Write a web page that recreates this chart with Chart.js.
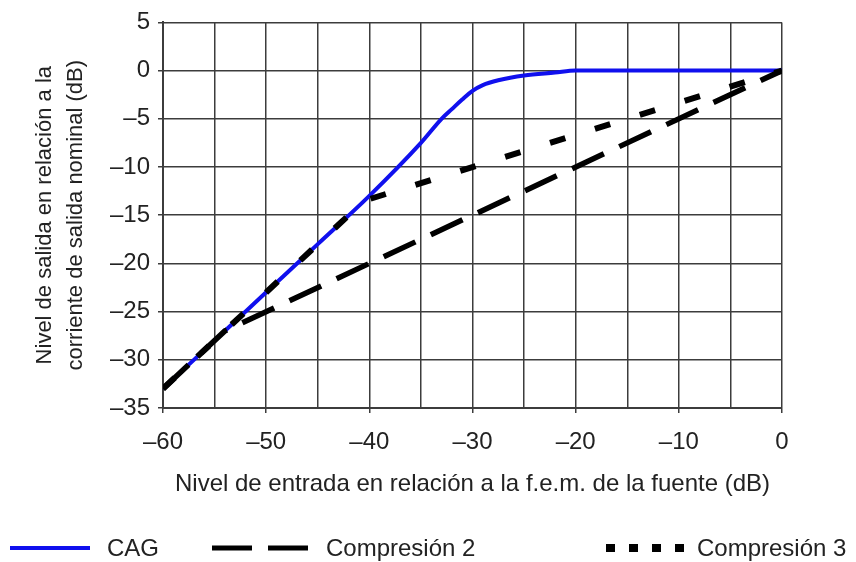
<!DOCTYPE html>
<html>
<head>
<meta charset="utf-8">
<script src="https://cdn.jsdelivr.net/npm/chart.js@4/dist/chart.umd.min.js"></script>
<style>
  html, body { margin: 0; padding: 0; background: #fff; }
  #wrap { width: 856px; height: 562px; }
</style>
</head>
<body>
<div id="wrap"><canvas id="chart" width="856" height="562"></canvas></div>
<script>
// input level (dB) vs output level (dB)
const cagX = [-60, -55, -50, -45, -40, -35, -33, -32, -31, -30, -29, -27.5, -25, -22, -20, -10, 0];
const cagY = [-33, -28, -23, -18, -13, -7.5, -5, -4, -3, -2.1, -1.5, -1.0, -0.5, -0.2, 0, 0, 0];

const comp2X = [-60, -54, 0];
const comp2Y = [-33, -27, 0];

const comp3X = [-60, -40.5, 0];
const comp3Y = [-33, -13.5, 0];

const xTicks = [-60, -50, -40, -30, -20, -10, 0];
const yTicks = [5, 0, -5, -10, -15, -20, -25, -30, -35];

const seriesNames = ["CAG", "Compresión 2", "Compresión 3"];

const FONT = "'Liberation Sans', Arial, sans-serif";
const GRID = "#3c3c3c";

function toPoints(xs, ys) {
  return xs.map((x, i) => ({ x: x, y: ys[i] }));
}

function dash(v) {
  return v < 0 ? "\u2013" + Math.abs(v) : String(v);
}

// legend drawn under the axis title
const legendPlugin = {
  id: "bottomLegend",
  afterDraw(chart) {
    const ctx = chart.ctx;
    const y = 548;
    const items = [
      { ds: 0, x1: 10, x2: 90, tx: 107, lw: 4, dash: [] },
      { ds: 1, x1: 212, x2: 314, tx: 326, lw: 5, dash: [40, 16] },
      { ds: 2, x1: 606, x2: 684, tx: 697, lw: 8, dash: [9, 14] }
    ];
    ctx.save();
    items.forEach(it => {
      const d = chart.data.datasets[it.ds];
      ctx.beginPath();
      ctx.setLineDash(it.dash);
      ctx.lineWidth = it.lw;
      ctx.strokeStyle = d.borderColor;
      ctx.moveTo(it.x1, y);
      ctx.lineTo(it.x2, y);
      ctx.stroke();
      ctx.setLineDash([]);
      ctx.fillStyle = "#222";
      ctx.font = "24px " + FONT;
      ctx.textBaseline = "middle";
      ctx.fillText(d.label, it.tx, y + 1);
    });
    ctx.restore();
  }
};

new Chart(document.getElementById("chart"), {
  type: "line",
  data: {
    datasets: [
      {
        label: seriesNames[0],
        data: toPoints(cagX, cagY),
        borderColor: "#1010ee",
        borderWidth: 4,
        cubicInterpolationMode: "monotone",
        pointRadius: 0,
        fill: false,
        order: 3
      },
      {
        label: seriesNames[1],
        data: toPoints(comp2X, comp2Y),
        borderColor: "#000",
        borderWidth: 5.5,
        borderDash: [35, 17],
        pointRadius: 0,
        fill: false,
        order: 2
      },
      {
        label: seriesNames[2],
        data: toPoints(comp3X, comp3Y),
        borderColor: "#000",
        borderWidth: 6,
        borderDash: [16, 31],
        pointRadius: 0,
        fill: false,
        order: 1
      }
    ]
  },
  options: {
    responsive: false,
    animation: false,
    layout: { padding: { left: 30, top: 11, right: 74, bottom: 64 } },
    plugins: {
      legend: { display: false },
      tooltip: { enabled: false }
    },
    scales: {
      x: {
        type: "linear",
        min: -60,
        max: 0,
        afterFit(scale) { scale.height = 90; },
        afterBuildTicks(scale) {
          const t = [];
          for (let v = -60; v <= 0; v += 5) t.push({ value: v });
          scale.ticks = t;
        },
        grid: {
          color: GRID,
          lineWidth: 1.5,
          tickLength: 5,
          tickColor: c => (xTicks.includes(c.tick.value) ? GRID : "rgba(0,0,0,0)")
        },
        border: { color: GRID, width: 2 },
        ticks: {
          color: "#222",
          padding: 15,
          maxRotation: 0,
          autoSkip: false,
          font: { family: FONT, size: 24 },
          callback: v => (xTicks.includes(v) ? dash(v) : "")
        },
        title: {
          display: true,
          text: "Nivel de entrada en relación a la f.e.m. de la fuente (dB)",
          color: "#222",
          padding: 0,
          font: { family: FONT, size: 24, lineHeight: 1.1 }
        }
      },
      y: {
        type: "linear",
        min: -35,
        max: 5,
        afterFit(scale) { scale.width = 133; },
        afterBuildTicks(scale) {
          scale.ticks = yTicks.map(v => ({ value: v }));
        },
        grid: { color: GRID, lineWidth: 1.5, tickLength: 5, tickColor: GRID },
        border: { color: GRID, width: 2 },
        ticks: {
          color: "#222",
          padding: 8,
          font: { family: FONT, size: 24 },
          callback: v => dash(v)
        },
        title: {
          display: true,
          text: ["Nivel de salida en relación a la", "corriente de salida nominal (dB)"],
          color: "#222",
          padding: 0,
          font: { family: FONT, size: 22, lineHeight: 1.4 }
        }
      }
    }
  },
  plugins: [legendPlugin]
});
</script>
</body>
</html>
